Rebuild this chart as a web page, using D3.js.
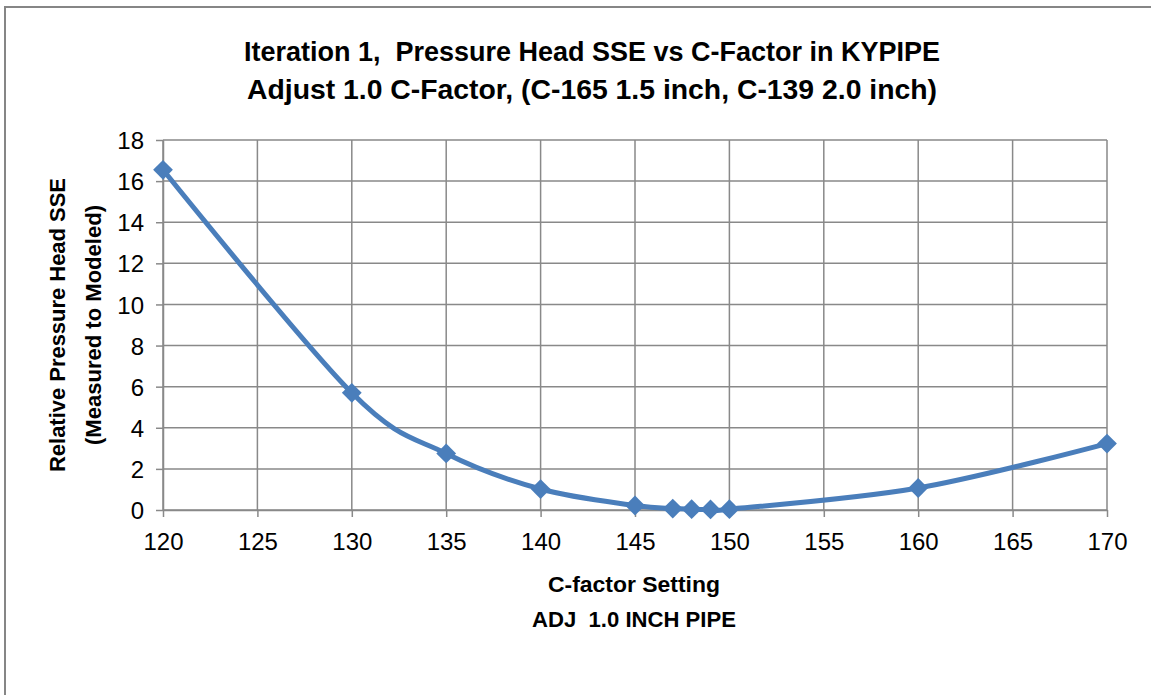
<!DOCTYPE html>
<html><head><meta charset="utf-8">
<script src="https://cdn.jsdelivr.net/npm/d3@7"></script>
<style>
html,body{margin:0;padding:0;background:#fff;}
svg{display:block;}
text{font-family:"Liberation Sans",Arial,sans-serif;fill:#000;white-space:pre;}
</style></head>
<body>
<svg id="chart" width="1151" height="695"></svg>
<script>
const cFactor = [120,130,135,140,145,147,148,149,150,160,170];
const sse = [16.55,5.7,2.75,1.02,0.22,0.07,0.04,0.03,0.04,1.07,3.23];
const xTicks = [120,125,130,135,140,145,150,155,160,165,170];
const yTicks = [0,2,4,6,8,10,12,14,16,18];
const titleLines = ["Iteration 1,  Pressure Head SSE vs C-Factor in KYPIPE","Adjust 1.0 C-Factor, (C-165 1.5 inch, C-139 2.0 inch)"];
const xTitleLines = ["C-factor Setting","ADJ  1.0 INCH PIPE"];
const yTitleLines = ["Relative Pressure Head SSE","(Measured to Modeled)"];

const svg = d3.select("#chart");
svg.append("rect").attr("x",5).attr("y",7).attr("width",1160).attr("height",700)
  .attr("fill","#fff").attr("stroke","#868686").attr("stroke-width",2);

const x = d3.scaleLinear().domain([120,170]).range([163,1107]);
const y = d3.scaleLinear().domain([0,18]).range([510,140]);
const grid = "#898989";

// grid
svg.append("g").selectAll("line").data(yTicks).join("line")
  .attr("x1",x(120)).attr("x2",x(170)).attr("y1",d=>y(d)).attr("y2",d=>y(d))
  .attr("stroke",grid).attr("stroke-width",1.5);
svg.append("g").selectAll("line").data(xTicks).join("line")
  .attr("y1",y(0)).attr("y2",y(18)).attr("x1",d=>x(d)).attr("x2",d=>x(d))
  .attr("stroke",grid).attr("stroke-width",1.5);

// axes
const xAxis = svg.append("g").attr("transform",`translate(0,${y(0)})`)
  .call(d3.axisBottom(x).tickValues(xTicks).tickSize(7).tickSizeOuter(0).tickPadding(16));
const yAxis = svg.append("g").attr("transform",`translate(${x(120)},0)`)
  .call(d3.axisLeft(y).tickValues(yTicks).tickSize(7).tickSizeOuter(0).tickPadding(12));
[xAxis,yAxis].forEach(a=>{
  a.attr("font-size",null).attr("font-family",null);
  a.select(".domain").attr("stroke",grid).attr("stroke-width",1.5);
  a.selectAll(".tick line").attr("stroke",grid).attr("stroke-width",1.5);
  a.selectAll("text").style("font-size","24px").style("font-family","Liberation Sans, Arial, sans-serif").attr("fill","#000");
});
yAxis.selectAll("text").attr("dy","0.36em");
xAxis.selectAll("text").attr("textLength",40).attr("lengthAdjust","spacingAndGlyphs");

// line
const pts = cFactor.map((c,i)=>[c,sse[i]]);
svg.append("path").datum(pts)
  .attr("d",d3.line().x(d=>x(d[0])).y(d=>y(d[1])).curve(d3.curveCardinal.tension(0)))
  .attr("fill","none").attr("stroke","#4a7ebb").attr("stroke-width",5).attr("stroke-linejoin","round");
svg.append("g").selectAll("path").data(pts).join("path")
  .attr("d",d3.symbol().type(d3.symbolDiamond2).size(250))
  .attr("transform",d=>`translate(${x(d[0])},${y(d[1])})`)
  .attr("fill","#4a7ebb");

// titles
svg.append("g").selectAll("text").data(titleLines).join("text")
  .attr("x",592).attr("y",(d,i)=>61+i*38).attr("text-anchor","middle")
  .style("font-size","28px").attr("font-weight","bold")
  .attr("textLength",(d,i)=>i===0?696:690).attr("lengthAdjust","spacingAndGlyphs")
  .text(d=>d);
svg.append("g").selectAll("text").data(xTitleLines).join("text")
  .attr("x",634).attr("y",(d,i)=>592+i*35).attr("text-anchor","middle")
  .style("font-size","22px").attr("font-weight","bold")
  .attr("textLength",(d,i)=>i===0?172:204).attr("lengthAdjust","spacingAndGlyphs")
  .text(d=>d);
svg.append("g").selectAll("text").data(yTitleLines).join("text")
  .attr("transform",(d,i)=>`translate(${65+i*36},325) rotate(-90)`).attr("text-anchor","middle")
  .style("font-size","22px").attr("font-weight","bold")
  .attr("textLength",(d,i)=>i===0?294:240).attr("lengthAdjust","spacingAndGlyphs")
  .text(d=>d);
</script>
</body></html>
